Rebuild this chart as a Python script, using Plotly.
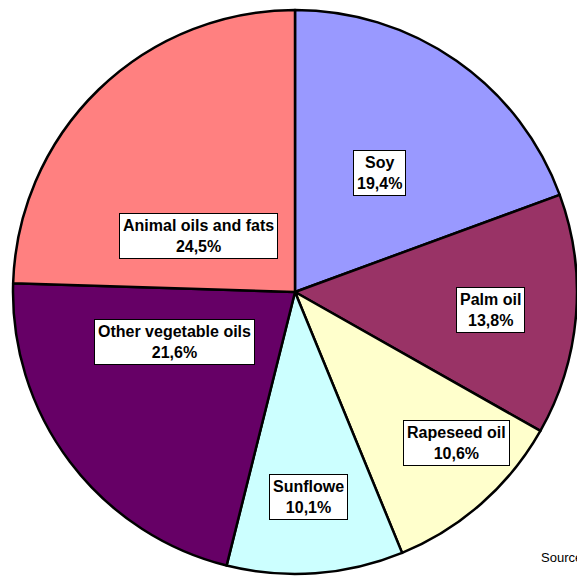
import math
import plotly.graph_objects as go

# Shares of world oil and fat production (%)
categories = ["Soy", "Palm oil", "Rapeseed oil", "Sunflowe", "Other vegetable oils", "Animal oils and fats"]
shares = [19.4, 13.8, 10.6, 10.1, 21.6, 24.5]
share_text = ["19,4%", "13,8%", "10,6%", "10,1%", "21,6%", "24,5%"]
colors = ["#9999FF", "#993366", "#FFFFCC", "#CCFFFF", "#660066", "#FF8080"]

# label placement: radial fraction of the radius and angular nudge (degrees)
label_radius = [0.51, 0.69, 0.78, 0.73, 0.47, 0.40]
label_nudge = [0, 1, -5, 1, 14.6, -17]

W, H = 577, 582
CX, CY, R = 295, 292, 282  # pixels from top-left

FONT = "Liberation Sans, Arial, sans-serif"

fig = go.Figure(go.Pie(
    labels=categories,
    values=shares,
    sort=False,
    direction="clockwise",
    rotation=0,
    marker=dict(colors=colors, line=dict(color="black", width=2.5)),
    textinfo="none",
    hoverinfo="label+percent",
    domain=dict(x=[(CX - R) / W, min(1.0, (CX + R) / W)],
                y=[1 - (CY + R) / H, 1 - (CY - R) / H]),
    showlegend=False,
))

total = sum(shares)
cum = 0.0
annotations = []
for name, val, txt, f, nudge in zip(categories, shares, share_text, label_radius, label_nudge):
    mid = (cum + val / 2) / total * 360 + nudge
    cum += val
    a = math.radians(mid)
    px = CX + 2 + f * R * math.sin(a)
    py = CY - 1 - f * R * math.cos(a)
    annotations.append(dict(
        x=px / W, y=1 - py / H, xref="paper", yref="paper",
        xanchor="center", yanchor="middle",
        text=f"<b>{name}<br>{txt}</b>", showarrow=False,
        font=dict(family=FONT, size=16, color="black"),
        bgcolor="white", bordercolor="black", borderwidth=1, borderpad=3,
        align="center",
    ))

annotations.append(dict(
    x=539 / W, y=1 - 557 / H, xref="paper", yref="paper",
    xanchor="left", yanchor="middle",
    text="Source: own calculations", showarrow=False,
    font=dict(family=FONT, size=13, color="black"),
))

fig.update_layout(
    width=W, height=H,
    margin=dict(l=0, r=0, t=0, b=0),
    paper_bgcolor="white",
    plot_bgcolor="white",
    annotations=annotations,
)

fig.write_html("out.html")
